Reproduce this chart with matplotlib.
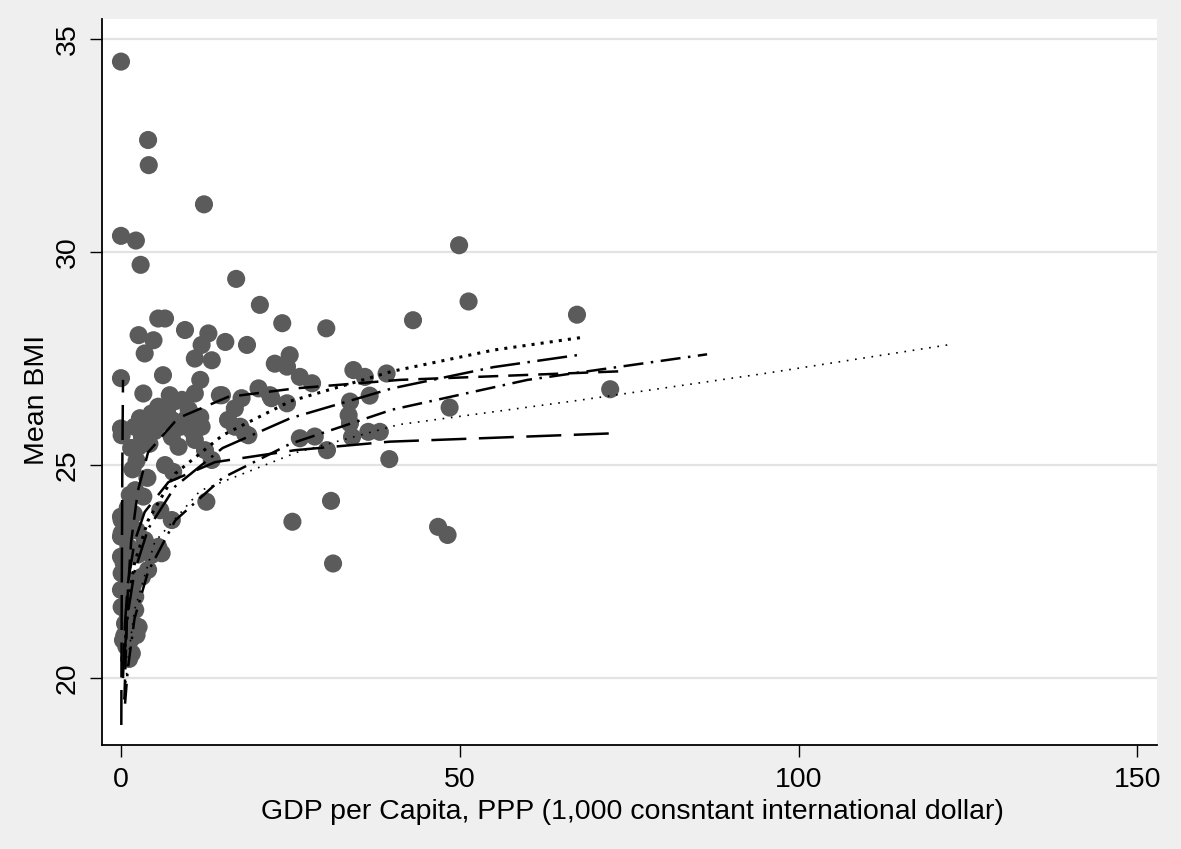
import matplotlib
matplotlib.use("Agg")
import matplotlib.pyplot as plt

plt.rcParams['font.family'] = ['Liberation Sans', 'DejaVu Sans']

# ---- scatter data: GDP per capita (1,000 intl $) and mean BMI ----
gdp = [0.0, 4.0, 4.1, 12.25, 0.0, 2.2, 2.9, 17.0,
       49.9, 51.3, 67.3, 72.2, 48.5, 46.8, 48.2, 43.1,
       20.5, 23.8, 30.3, 39.6, 31.0, 31.3, 25.3,
       24.9, 24.5, 26.4, 28.2, 24.5, 34.3, 36.0, 39.2, 36.7, 33.8, 33.6, 33.8, 34.1,
       36.5, 38.2, 26.4, 28.6, 30.4,
       14.6, 17.8, 20.3, 22.0, 16.8, 15.8, 17.6, 18.8, 11.7, 13.4, 12.6, 22.7,
       5.5, 6.5, 2.6, 4.8, 3.5, 9.45, 12.9, 11.9, 15.4, 18.6, 10.9, 13.4, 0.0, 6.2,
       3.3, 7.2, 9.0, 11.7, 10.9, 14.9, 22.2, 4.5, 5.5, 7.5, 9.45, 11.4, 11.9, 16.8,
       18.3, 0.0, 0.1, 3.1, 2.6, 7.5, 8.5, 10.9, 12.4, 6.5, 7.7, 2.1, 3.3, 5.8, 7.5,
       2.0, 2.8, 3.8, 4.2, 5.0, 6.0, 6.8, 8.0, 8.8, 10.0, 10.5, 1.5, 2.3, 1.7, 3.9,
       1.3, 1.0, 1.9,
       0.1, 0.0, 1.6, 3.5, 5.5, 1.6, 4.5, 6.0, 4.0, 3.1, 0.1, 0.0, 0.1, 2.1, 2.6,
       0.6, 0.3, 2.3, 1.6, 0.8, 1.1, 0.0, 0.0, 0.1, 2.3, 4.0, 1.1, 2.1, 1.2, 0.5,
       1.5, 0.9, 1.8, 1.0, 2.0, 0.4, 2.5, 1.4]
bmi = [34.47, 32.63, 32.04, 31.12, 30.38, 30.27, 29.70, 29.37,
       30.16, 28.84, 28.53, 26.78, 26.35, 23.55, 23.36, 28.40,
       28.76, 28.33, 28.21, 25.14, 24.16, 22.69, 23.67,
       27.58, 27.31, 27.07, 26.92, 26.45, 27.23, 27.07, 27.15, 26.63, 26.49, 26.17, 25.98, 25.66,
       25.78, 25.78, 25.63, 25.67, 25.35,
       26.64, 26.57, 26.80, 26.64, 26.33, 26.06, 25.90, 25.70, 26.13, 25.12, 24.14, 27.38,
       28.44, 28.44, 28.05, 27.93, 27.62, 28.17, 28.09, 27.82, 27.89, 27.82, 27.50, 27.46, 27.04, 27.11,
       26.68, 26.64, 26.53, 27.00, 26.68, 26.64, 26.57, 26.21, 26.37, 26.06, 26.06, 26.13, 25.90, 25.90,
       25.74, 25.86, 25.70, 25.66, 25.43, 25.66, 25.43, 25.59, 25.35, 25.00, 24.84, 24.41, 24.26, 23.94, 23.71,
       25.90, 26.10, 25.90, 25.50, 25.80, 26.00, 26.30, 26.50, 25.90, 26.30, 25.80, 25.40, 25.10, 24.90, 24.70,
       24.30, 24.00, 23.85,
       23.71, 23.32, 23.47, 23.24, 23.08, 23.00, 22.89, 22.93, 22.54, 22.38, 22.46, 22.07, 21.67, 21.60, 21.20,
       21.28, 20.89, 21.01, 20.58, 20.74, 23.08, 22.85, 23.79, 23.40, 23.47, 23.08, 22.14, 21.91, 20.45, 21.00,
       21.80, 22.30, 22.20, 21.50, 21.10, 22.70, 22.90, 20.90]

# ---- fitted curves ----
curve_a_x = [0.4, 1, 2, 4, 8, 15, 25, 40, 55, 68.2]
curve_a_y = [20.3, 21.7, 22.7, 23.7, 24.8, 25.7, 26.5, 27.2, 27.7, 28.0]
curve_b_x = [0.5, 1, 2, 4, 8, 15, 25, 40, 55, 68.2]
curve_b_y = [20.5, 21.5, 22.5, 23.5, 24.5, 25.4, 26.1, 26.8, 27.3, 27.6]
curve_c_x = [0.6, 1, 2, 4, 8, 15, 25, 40, 60, 86.5]
curve_c_y = [19.4, 20.2, 21.4, 22.5, 23.7, 24.7, 25.5, 26.3, 27.0, 27.6]
curve_d_x = [0.5, 1, 2, 5, 11.7, 26, 41, 68, 95, 122.8]
curve_d_y = [19.5, 20.4, 21.6, 23.2, 24.4, 25.3, 25.95, 26.53, 27.15, 27.84]
curve_e_x = [0.3, 0.6, 1, 2, 3.5, 7, 13.9, 25.7, 39.7, 73.4]
curve_e_y = [20.0, 21.3, 22.2, 23.2, 23.9, 24.6, 25.07, 25.35, 25.55, 25.75]
curve_f_x = [0.5, 0.8, 1.0, 1.5, 2.5, 4, 8.4, 15.8, 25.7, 41.2, 73.5]
curve_f_y = [19.5, 21.0, 22.0, 23.2, 24.4, 25.3, 26.1, 26.6, 26.8, 27.0, 27.2]
curve_g_x = [0.05, 0.1, 0.2, 0.3]
curve_g_y = [18.9, 21.5, 25.0, 27.0]

xticks = [0, 50, 100, 150]
yticks = [20, 25, 30, 35]

fig = plt.figure(figsize=(11.81, 8.49), dpi=100, facecolor='#efefef')
ax = fig.add_axes([102 / 1181, 1 - 745 / 849, 1055 / 1181, 726 / 849])
ax.set_facecolor('white')

ax.scatter(gdp, bmi, s=170, color='#5b5b5b', edgecolors='none', zorder=2)

lw = 1.8
ax.plot(curve_a_x, curve_a_y, color='black', lw=2.2, ls=(0, (1, 2)), zorder=3)
ax.plot(curve_b_x, curve_b_y, color='black', lw=lw, ls=(0, (12, 3, 1, 3)), zorder=3)
ax.plot(curve_c_x, curve_c_y, color='black', lw=lw, ls=(0, (8, 3, 1, 3)), zorder=3)
ax.plot(curve_d_x, curve_d_y, color='black', lw=1.2, ls=(0, (1, 4)), zorder=3)
ax.plot(curve_e_x, curve_e_y, color='black', lw=lw, ls=(0, (14, 5)), zorder=3)
ax.plot(curve_f_x, curve_f_y, color='black', lw=lw, ls=(0, (8, 4)), zorder=3)
ax.plot(curve_g_x, curve_g_y, color='black', lw=lw, ls=(0, (14, 5)), zorder=3)

ax.set_xlim(-2.8, 152.9)
ax.set_ylim(18.43, 35.47)
ax.set_xticks(xticks)
ax.set_yticks(yticks)
ax.set_yticklabels([str(t) for t in yticks], rotation=90, va='center')
ax.grid(axis='y', color='#e3e3e3', lw=1.6)
ax.set_axisbelow(True)
for s in ['top', 'right']:
    ax.spines[s].set_visible(False)
for s in ['left', 'bottom']:
    ax.spines[s].set_linewidth(1.3)
ax.tick_params(axis='both', length=8.5, width=1.0, labelsize=20.5, pad=7)

fig.text(632 / 1181, 1 - 812 / 849, 'GDP per Capita, PPP (1,000 consntant international dollar)',
         ha='center', va='center', fontsize=20.5)
fig.text(37 / 1181, 1 - 400 / 849, 'Mean BMI', rotation=90, ha='center', va='center', fontsize=20.5)

fig.savefig('out.png', dpi=100, facecolor=fig.get_facecolor())
